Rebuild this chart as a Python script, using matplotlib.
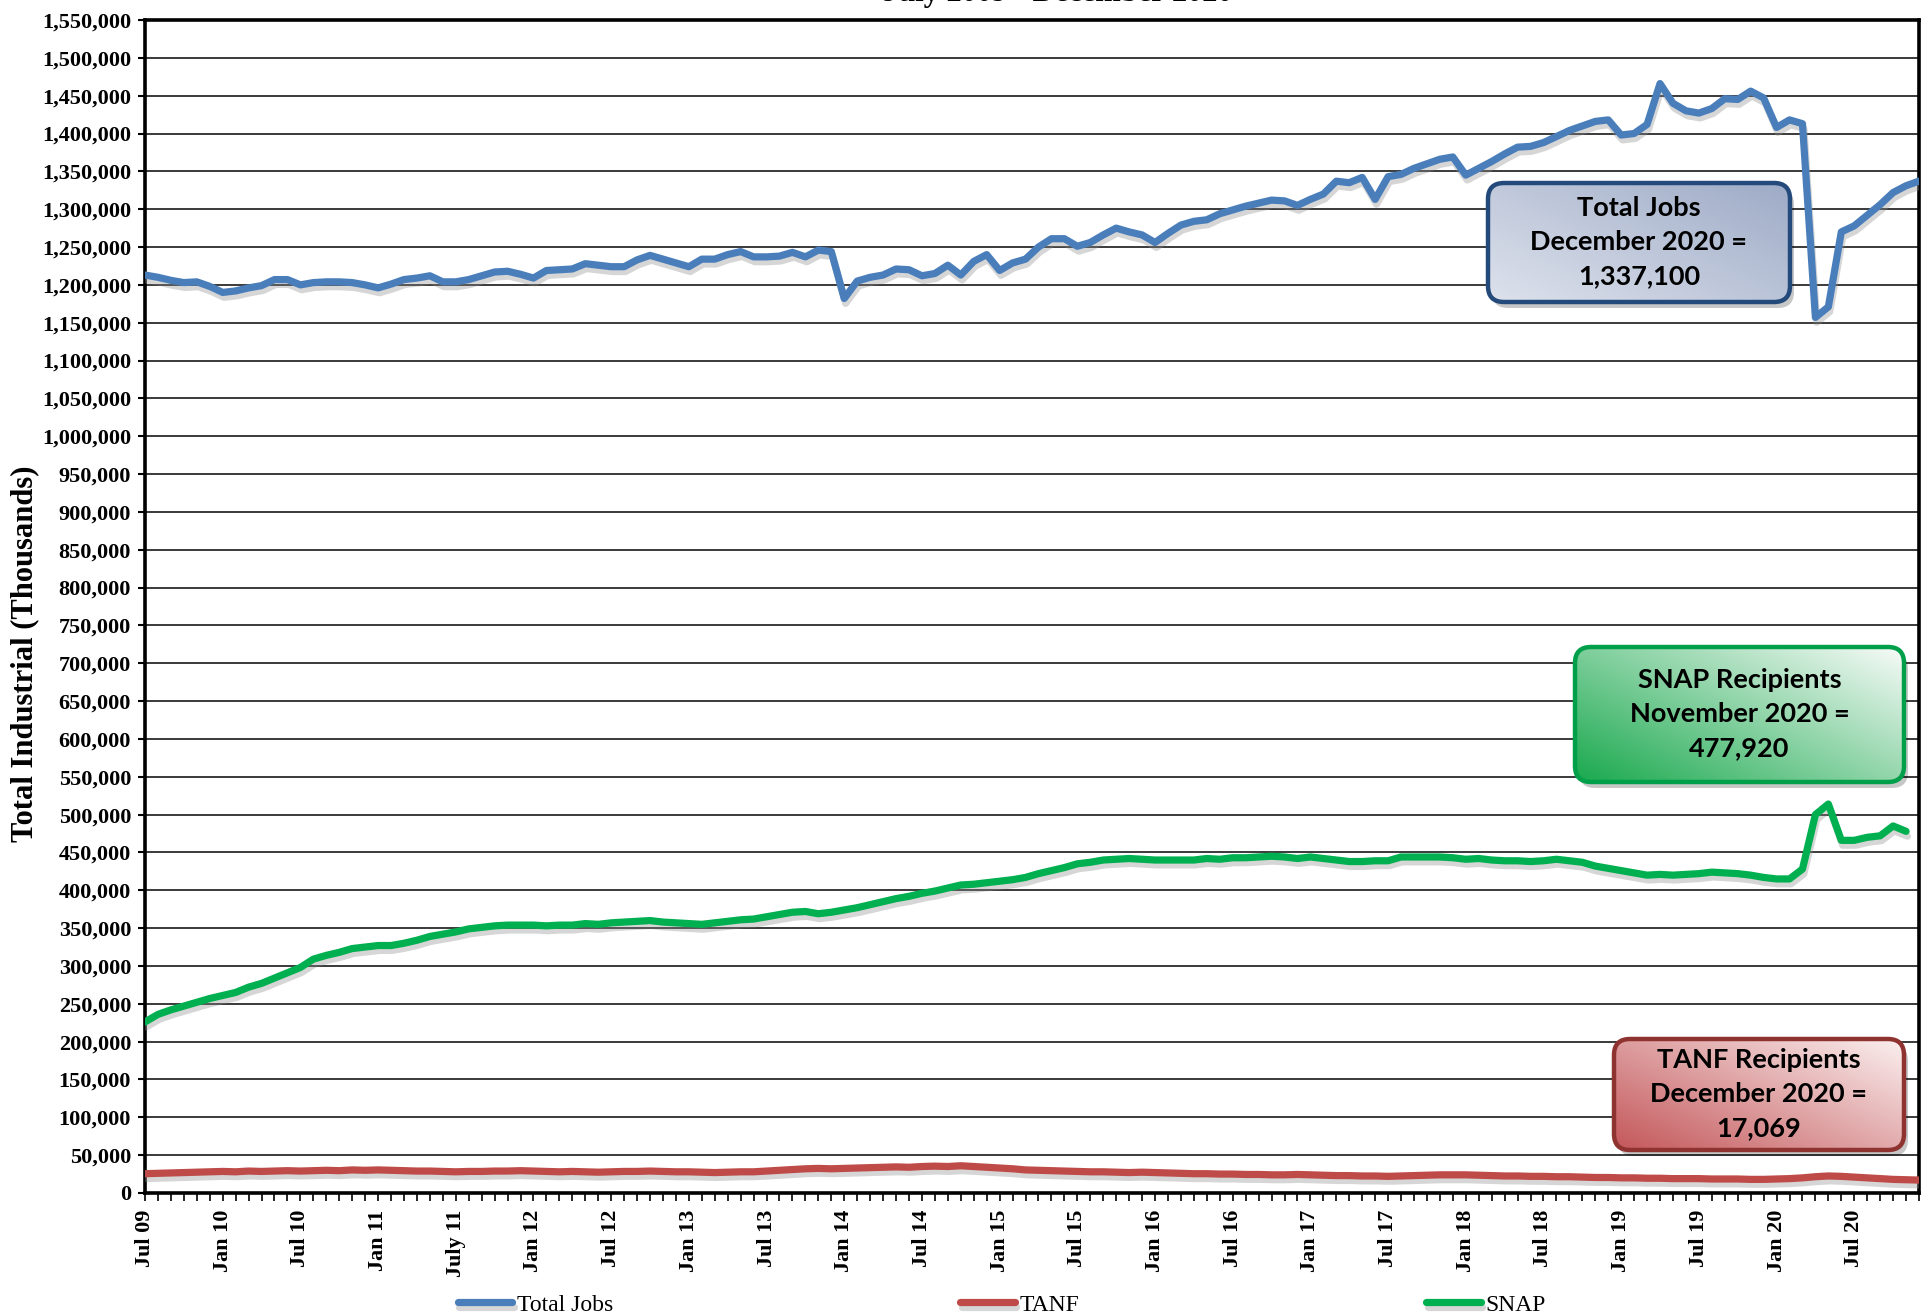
import numpy as np
import matplotlib
matplotlib.use('Agg')
import matplotlib.pyplot as plt
from matplotlib import patheffects as pe
from matplotlib.patches import FancyBboxPatch
from matplotlib.colors import to_rgb
from matplotlib.ticker import FuncFormatter

W, H = 1923, 1316

# monthly values, Jul 2009 .. Dec 2020
total_jobs = [
    1213000, 1210000, 1206000, 1203000, 1204000, 1198000, 1190000, 1192000, 1196000, 1199000, 1207000, 1207000,
    1200000, 1203000, 1204000, 1204000, 1203000, 1200000, 1196000, 1201000, 1207000, 1209000, 1212000, 1204000,
    1204000, 1207000, 1212000, 1217000, 1218000, 1214000, 1209000, 1219000, 1220000, 1221000, 1228000, 1226000,
    1224000, 1224000, 1233000, 1239000, 1234000, 1229000, 1224000, 1234000, 1234000, 1240000, 1244000, 1237000,
    1237000, 1238000, 1243000, 1237000, 1246000, 1244000, 1182000, 1205000, 1210000, 1213000, 1221000, 1220000,
    1212000, 1215000, 1226000, 1213000, 1231000, 1240000, 1219000, 1229000, 1234000, 1250000, 1261000, 1261000,
    1251000, 1256000, 1266000, 1275000, 1270000, 1266000, 1256000, 1268000, 1279000, 1284000, 1286000, 1294000,
    1299000, 1304000, 1308000, 1312000, 1311000, 1305000, 1313000, 1320000, 1337000, 1335000, 1342000, 1313000,
    1343000, 1346000, 1354000, 1360000, 1366000, 1369000, 1345000, 1354000, 1363000, 1373000, 1382000, 1383000,
    1388000, 1396000, 1404000, 1410000, 1416000, 1418000, 1398000, 1400000, 1412000, 1466000, 1440000, 1430000,
    1427000, 1433000, 1446000, 1445000, 1456000, 1447000, 1408000, 1418000, 1413000, 1157000, 1171000, 1270000,
    1278000, 1292000, 1306000, 1322000, 1331000, 1337100,
]

tanf = [
    25500, 26000, 26500, 27000, 27500, 28000, 28500, 28000, 29000, 28500, 29000, 29500,
    29000, 29500, 30000, 29500, 30500, 30000, 30500, 30000, 29500, 29000, 29000, 28500,
    28000, 28500, 28500, 29000, 29000, 29500, 29000, 28500, 28000, 28500, 28000, 27500,
    28000, 28500, 28500, 29000, 28500, 28000, 28000, 27500, 27000, 27500, 28000, 28000,
    29000, 30000, 31000, 32000, 32500, 32000, 32500, 33000, 33500, 34000, 34500, 34000,
    35000, 35500, 35000, 36000, 35000, 34000, 33000, 32000, 30500, 30000, 29500, 29000,
    28500, 28000, 28000, 27500, 27000, 27500, 27000, 26500, 26000, 25500, 25500, 25000,
    25000, 24500, 24500, 24000, 24000, 24500, 24000, 23500, 23000, 23000, 22500, 22500,
    22000, 22500, 23000, 23500, 24000, 24000, 24000, 23500, 23000, 22500, 22500, 22000,
    22000, 21500, 21500, 21000, 20500, 20500, 20000, 20000, 19500, 19500, 19000, 19000,
    19000, 18500, 18500, 18500, 18000, 18000, 18500, 19000, 20000, 21500, 22500, 22000,
    21000, 20000, 19000, 18000, 17500, 17069,
]

# SNAP ends November 2020
snap = [
    226000, 236000, 242000, 247000, 252000, 257000, 261000, 265000, 272000, 277000, 284000, 291000,
    298000, 309000, 314000, 318000, 323000, 325000, 327000, 327000, 330000, 334000, 339000, 342000,
    345000, 349000, 351000, 353000, 354000, 354000, 354000, 353000, 354000, 354000, 356000, 355000,
    357000, 358000, 359000, 360000, 358000, 357000, 356000, 355000, 357000, 359000, 361000, 362000,
    365000, 368000, 371000, 372000, 369000, 371000, 374000, 377000, 381000, 385000, 389000, 392000,
    396000, 399000, 403000, 407000, 408000, 410000, 412000, 414000, 417000, 422000, 426000, 430000,
    435000, 437000, 440000, 441000, 442000, 441000, 440000, 440000, 440000, 440000, 442000, 441000,
    443000, 443000, 444000, 445000, 444000, 442000, 444000, 442000, 440000, 438000, 438000, 439000,
    439000, 444000, 444000, 444000, 444000, 443000, 441000, 442000, 440000, 439000, 439000, 438000,
    439000, 441000, 439000, 437000, 432000, 429000, 426000, 423000, 420000, 421000, 420000, 421000,
    422000, 424000, 423000, 422000, 420000, 417000, 415000, 415000, 428000, 500000, 514000, 466000,
    466000, 470000, 472000, 485000, 477920,
]

tick_labels = ['Jul 09', 'Jan 10', 'Jul 10', 'Jan 11', 'July 11', 'Jan 12', 'Jul 12', 'Jan 13',
               'Jul 13', 'Jan 14', 'Jul 14', 'Jan 15', 'Jul 15', 'Jan 16', 'Jul 16', 'Jan 17',
               'Jul 17', 'Jan 18', 'Jul 18', 'Jan 19', 'Jul 19', 'Jan 20', 'Jul 20']

plt.rcParams['font.family'] = ['Liberation Serif', 'DejaVu Serif']
plt.rcParams['font.weight'] = 'bold'

fig = plt.figure(figsize=(W / 100, H / 100), dpi=100, facecolor='white')
ax = fig.add_axes([145 / W, 1 - 1193 / H, (1919 - 145) / W, (1193 - 20) / H])

n = len(total_jobs)
shadow = [pe.SimpleLineShadow(offset=(1, -3.5), shadow_color='#8c8c8c', alpha=0.35), pe.Normal()]
ax.plot(range(n), total_jobs, color='#4A7EBB', lw=5.2, label='Total Jobs',
        solid_joinstyle='round', solid_capstyle='round', path_effects=shadow, zorder=3)
ax.plot(range(n), tanf, color='#BE4B48', lw=5.2, label='TANF',
        solid_joinstyle='round', solid_capstyle='round', path_effects=shadow, zorder=3)
ax.plot(range(len(snap)), snap, color='#00B050', lw=5.2, label='SNAP',
        solid_joinstyle='round', solid_capstyle='round', path_effects=shadow, zorder=3)

ax.set_xlim(0, n - 1)
ax.set_ylim(0, 1550000)
ax.set_yticks(range(0, 1550001, 50000))
ax.yaxis.set_major_formatter(FuncFormatter(lambda v, p: f'{int(v):,}'))
ax.yaxis.grid(True, color='#2b2b2b', lw=1.3)
ax.set_axisbelow(True)

ax.set_xticks(range(0, n, 6))
ax.set_xticklabels(tick_labels, rotation=90, va='top', ha='center')
ax.set_xticks(range(n), minor=True)
ax.tick_params(axis='x', which='both', direction='out', length=6, width=1.2, labelsize=16, pad=6)
ax.tick_params(axis='y', direction='out', length=5, width=1.5, labelsize=16, pad=5)

for s in ax.spines.values():
    s.set_linewidth(2.6)
    s.set_color('black')

ax.set_ylabel('Total Industrial (Thousands)', fontsize=22, fontweight='bold', va='center')
ax.yaxis.set_label_coords(-0.0679, 0.4595)

# title sits mostly above the canvas, as in the source image
fig.text(1058 / W, 1 - 1 / H, 'July 2009 - December 2020', ha='center', va='baseline',
         fontsize=22)

fig.legend(loc='center', bbox_to_anchor=(0.521, 0.0085), ncol=3, frameon=False,
           prop={'size': 17, 'weight': 'normal'}, handlelength=2.3, handletextpad=0.2,
           columnspacing=14.7)


def callout(box, text, edge, c_a, c_b, m=14, r=16):
    x0, y0, x1, y1 = box
    bw, bh = x1 - x0, y1 - y0
    bax = fig.add_axes([(x0 - m) / W, 1 - (y1 + m) / H, (bw + 2 * m) / W, (bh + 2 * m) / H])
    bax.set_axis_off()
    style = f'round,pad=0,rounding_size={r}'
    bax.add_patch(FancyBboxPatch((4, -6), bw, bh, boxstyle=style, fc='black', ec='none',
                                 alpha=0.22, zorder=1))
    gx, gy = np.meshgrid(np.linspace(0, 1, 120), np.linspace(0, 1, 60))
    t = np.clip(0.55 * gx + 0.45 * gy, 0, 1)[..., None]
    img = np.array(to_rgb(c_a)) * (1 - t) + np.array(to_rgb(c_b)) * t
    im = bax.imshow(img, extent=[0, bw, 0, bh], origin='lower', aspect='auto',
                    interpolation='bilinear', zorder=2)
    frame = FancyBboxPatch((0, 0), bw, bh, boxstyle=style, fc='none', ec=edge, lw=3.2, zorder=3)
    bax.add_patch(frame)
    im.set_clip_path(frame)
    bax.set_xlim(-m, bw + m)
    bax.set_ylim(-m, bh + m)
    bax.text(bw / 2, bh / 2, text, ha='center', va='center', fontsize=19.5, fontweight='bold',
             family=['Lato', 'DejaVu Sans'], linespacing=1.5, color='black', zorder=4)


callout((1488, 183, 1790, 302), 'Total Jobs\nDecember 2020 =\n1,337,100', '#234a7a', '#dde2ec', '#9eabc7')
callout((1575, 647, 1904, 782), 'SNAP Recipients\nNovember 2020 =\n477,920', '#00a04a', '#1aa94e', '#f7fbf8')
callout((1614, 1039, 1904, 1150), 'TANF Recipients\nDecember 2020 =\n17,069', '#8f3331', '#c4575a', '#fbefef')

fig.savefig('out.png', dpi=100, facecolor='white')
